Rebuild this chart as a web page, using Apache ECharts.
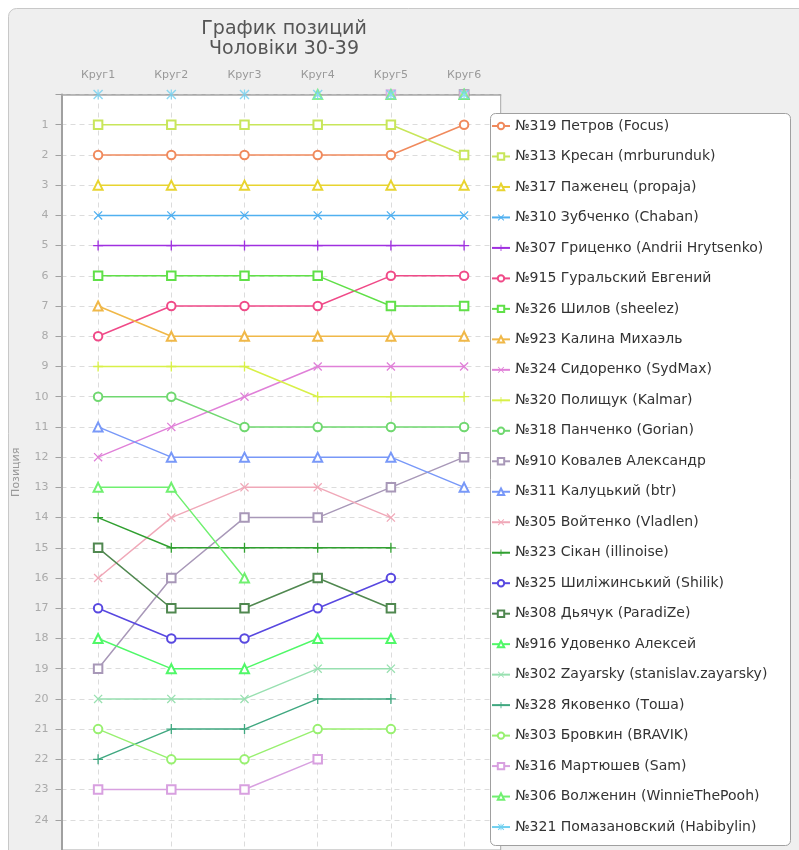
<!DOCTYPE html>
<html>
<head>
<meta charset="utf-8">
<script src="https://cdn.jsdelivr.net/npm/echarts@6/dist/echarts.min.js"></script>
<style>html,body{margin:0;padding:0;background:#fff;}#c{width:799px;height:850px;}</style>
</head>
<body>
<div id="c"></div>
<script>
const categories = ['Круг1','Круг2','Круг3','Круг4','Круг5','Круг6'];
const titleText = 'График позиций\nЧоловіки 30-39';
const yName = 'Позиция';

// 0 = not ranked in that round (drawn at the top edge)
const p319 = [2,2,2,2,2,1];
const p313 = [1,1,1,1,1,2];
const p317 = [3,3,3,3,3,3];
const p310 = [4,4,4,4,4,4];
const p307 = [5,5,5,5,5,5];
const p915 = [8,7,7,7,6,6];
const p326 = [6,6,6,6,7,7];
const p923 = [7,8,8,8,8,8];
const p324 = [12,11,10,9,9,9];
const p320 = [9,9,9,10,10,10];
const p318 = [10,10,11,11,11,11];
const p910 = [19,16,14,14,13,12];
const p311 = [11,12,12,12,12,13];
const p305 = [16,14,13,13,14,0];
const p323 = [14,15,15,15,15,0];
const p325 = [17,18,18,17,16,0];
const p308 = [15,17,17,16,17,0];
const p916 = [18,19,19,18,18,0];
const p302 = [20,20,20,19,19,0];
const p328 = [22,21,21,20,20,0];
const p303 = [21,22,22,21,21,0];
const p316 = [23,23,23,22,0,0];
const p306 = [13,13,16,0,0,0];
const p321 = [0,0,0,0,0,0];

const names = [
 '№319 Петров (Focus)','№313 Кресан (mrburunduk)','№317 Паженец (propaja)','№310 Зубченко (Chaban)',
 '№307 Гриценко (Andrii Hrytsenko)','№915 Гуральский Евгений','№326 Шилов (sheelez)','№923 Калина Михаэль',
 '№324 Сидоренко (SydMax)','№320 Полищук (Kalmar)','№318 Панченко (Gorian)','№910 Ковалев Александр',
 '№311 Калуцький (btr)','№305 Войтенко (Vladlen)','№323 Сікан (illinoise)','№325 Шиліжинський (Shilik)',
 '№308 Дьячук (ParadiZe)','№916 Удовенко Алексей','№302 Zayarsky (stanislav.zayarsky)','№328 Яковенко (Тоша)',
 '№303 Бровкин (BRAVIK)','№316 Мартюшев (Sam)','№306 Волженин (WinnieThePooh)','№321 Помазановский (Habibylin)'
];
const values = [p319,p313,p317,p310,p307,p915,p326,p923,p324,p320,p318,p910,p311,p305,p323,p325,p308,p916,p302,p328,p303,p316,p306,p321];
const colors = ['#f08a5d','#c8e65a','#e8d430','#50b0f0','#a030e0','#f04a88','#60e048','#f0b848',
 '#e080d8','#d8f048','#70d870','#a898b8','#7898f8','#f0a8b8','#30a030','#5848e0',
 '#508850','#50f868','#98e0b0','#40a880','#98f070','#d8a0e0','#70f070','#70d0f0'];
const shapes = ['o','s','t','x','+','o','s','t','x','+','o','s','t','x','+','o','s','t','x','+','o','s','t','*'];

const PLUS = 'path://M4.35,0L5.65,0L5.65,4.35L10,4.35L10,5.65L5.65,5.65L5.65,10L4.35,10L4.35,5.65L0,5.65L0,4.35L4.35,4.35Z';
const CROSS = 'path://M0,1L1,0L10,9L9,10ZM9,0L10,1L1,10L0,9Z';
const STAR = 'path://M4.4,0L5.6,0L5.6,10L4.4,10ZM0,1L1,0L10,9L9,10ZM9,0L10,1L1,10L0,9Z';
function sym(s){
  if(s==='o') return {symbol:'emptyCircle', size:8.5, border:1.3};
  if(s==='s') return {symbol:'emptyRect', size:8.5, border:1.3};
  if(s==='t') return {symbol:'emptyTriangle', size:9, border:1.3};
  if(s==='x') return {symbol:CROSS, size:9, border:0};
  if(s==='+') return {symbol:PLUS, size:10, border:0};
  return {symbol:STAR, size:10, border:0};
}

const series = [];
names.forEach((n,i)=>{
  const sm = sym(shapes[i]);
  series.push({
    type:'line', name:n, data: values[i].map(v=> v>0 ? v : null),
    symbol: sm.symbol, symbolSize: sm.size, showSymbol:true, connectNulls:false,
    lineStyle:{color:colors[i], width:1.5},
    itemStyle: sm.border ? {color:colors[i], borderColor:colors[i], borderWidth:sm.border} : {color:colors[i], borderWidth:0},
    emphasis:{disabled:true}, animation:false, z:2
  });
});
names.forEach((n,i)=>{
  const sm = sym(shapes[i]);
  series.push({
    type:'scatter', name:n, data: values[i].map((v,j)=> v===0 ? [j,0] : null).filter(d=>d),
    symbol: sm.symbol, symbolSize: sm.size,
    itemStyle: sm.border ? {color:colors[i], borderColor:colors[i], borderWidth:sm.border} : {color:colors[i], borderWidth:0},
    emphasis:{disabled:true}, animation:false, z:2, clip:false
  });
});

const chart = echarts.init(document.getElementById('c'), null, {renderer:'canvas'});
chart.setOption({
  backgroundColor:'#ffffff',
  animation:false,
  textStyle:{fontFamily:'DejaVu Sans'},
  title:{text:titleText, left:279, top:14, textAlign:'center',
    textStyle:{fontSize:19, lineHeight:20, color:'#555', fontWeight:'normal', fontFamily:'DejaVu Sans'}},
  graphic:[
    {type:'rect', z:-10, shape:{x:8.5,y:8.5,width:820,height:870,r:8}, style:{fill:'#efefef', stroke:'#c8c8c8', lineWidth:1}},
    {type:'rect', z:3, shape:{x:490.5,y:113.5,width:300,height:732,r:5}, style:{fill:'#fff', stroke:'#a0a0a0', lineWidth:1}}
  ],
  grid:{left:61.5, right:298.3, top:94.5, bottom:-6.5, show:true, backgroundColor:'#fff', borderColor:'#a8a8a8', borderWidth:1},
  xAxis:{type:'category', data:categories, position:'top', boundaryGap:true,
    axisLine:{show:true, lineStyle:{color:'#a8a8a8', width:1.5}},
    axisTick:{show:false},
    axisLabel:{color:'#999', fontSize:11, margin:14, fontFamily:'DejaVu Sans'},
    splitLine:{show:true, alignWithLabel:true, lineStyle:{color:'#dcdcdc', type:[5,4], width:1}}
  },
  yAxis:{type:'value', inverse:true, min:0, max:25, interval:1, name:yName, nameLocation:'middle', nameGap:40,
    nameTextStyle:{color:'#999', fontSize:11, fontFamily:'DejaVu Sans'},
    axisLine:{show:true, lineStyle:{color:'#a0a0a0', width:2}},
    axisTick:{show:true, length:6, lineStyle:{color:'#a0a0a0'}},
    axisLabel:{color:'#aaa', fontSize:11, margin:13, fontFamily:'DejaVu Sans', formatter:v=> (v===0||v===25)?'':String(v)},
    splitLine:{show:true, lineStyle:{color:'#dcdcdc', type:[5,4], width:1}}
  },
  legend:{data:names, orient:'vertical', left:491, top:119, itemWidth:18, itemHeight:8, itemGap:16.48, padding:0, z:4,
    selectedMode:false, textStyle:{color:'#333', fontSize:14, lineHeight:14, fontFamily:'DejaVu Sans'}},
  series: series
});
</script>
</body>
</html>
